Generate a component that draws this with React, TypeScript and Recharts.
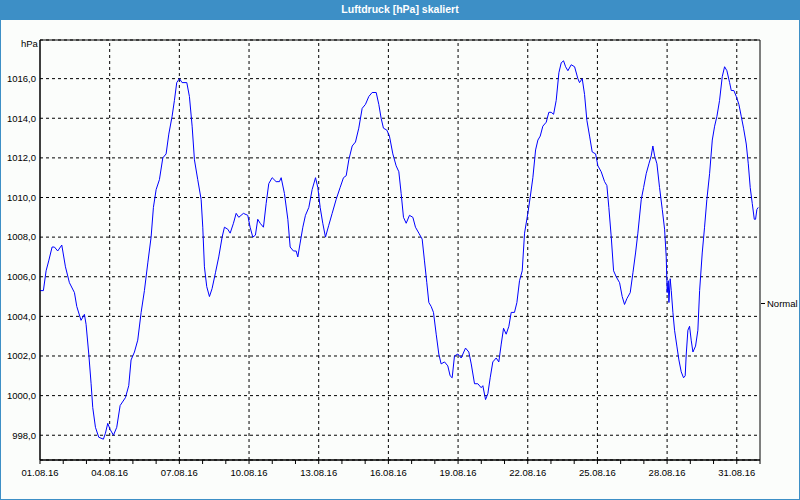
import React from 'react';
import { LineChart, Line, XAxis, YAxis, CartesianGrid, ReferenceLine, ReferenceArea } from 'recharts';

// hours since 01.08.16 00:00
const hours = [
  0, 3.5, 6.3, 9.0, 12.5, 14.9, 18.3, 22.5, 26.3, 30.4, 35.6, 38.0, 42.4, 45.9, 47.6, 50.4, 52.8, 54.5, 57.3, 60.7,
  65.5, 67.6, 70.0, 72.4, 75.9, 79.3, 82.8, 88.3, 91.7, 94.1, 97.6, 101.0, 104.5, 107.9, 111.4, 114.8, 117.2, 120.0,
  123.4, 126.9, 130.3, 133.1, 136.5, 138.9, 141.3, 144.1, 146.8, 151.7, 154.4, 157.2, 159.6, 163.0, 166.5, 168.2,
  169.9, 172.3, 175.1, 177.8, 181.3, 184.7, 188.2, 190.6, 194.0, 196.5, 199.9, 202.7, 205.4, 210.2, 214.7, 217.1,
  219.9, 222.6, 225.0, 227.5, 230.9, 233.7, 236.4, 239.9, 244.0, 247.4, 249.2, 252.6, 256.1, 258.5, 261.9, 264.7,
  266.4, 268.8, 271.6, 274.3, 277.8, 281.2, 284.7, 287.1, 289.5, 292.2, 295.0, 298.4, 301.9, 306.0, 310.1, 313.6,
  316.4, 319.1, 322.6, 326.0, 329.4, 332.9, 336.3, 339.8, 343.2, 347.4, 350.1, 352.5, 354.9, 358.4, 361.1, 364.6,
  368.0, 370.8, 373.2, 375.6, 378.4, 381.8, 385.3, 388.0, 391.5, 394.9, 397.3, 399.7, 401.8, 404.2, 406.6, 409.4,
  412.1, 414.5, 418.0, 421.4, 423.8, 425.9, 428.3, 431.8, 435.2, 439.7, 443.1, 445.6, 449.0, 452.4, 455.9, 457.6,
  460.4, 462.8, 465.2, 467.9, 471.4, 474.1, 476.6, 479.0, 481.7, 484.5, 486.9, 490.3, 492.8, 495.5, 498.3, 500.7,
  504.1, 506.5, 509.3, 512.1, 514.5, 516.9, 519.6, 523.1, 525.8, 528.2, 530.7, 533.4, 536.2, 538.6, 541.0, 543.1,
  545.5, 548.9, 552.4, 555.8, 557.5, 560.3, 562.7, 565.1, 567.9, 570.6, 574.1, 576.5, 579.9, 583.4, 585.8, 587.8,
  590.3, 592.7, 595.4, 598.9, 601.6, 604.0, 606.5, 609.9, 612.7, 615.4, 617.8, 621.3, 623.7, 626.4, 629.2, 631.6,
  633.3, 635.1, 637.5, 640.2, 643.0, 645.4, 647.1, 648.1, 649.2, 649.9, 651.2, 652.3, 654.0, 655.7, 658.1, 660.2,
  662.6, 665.0, 666.7, 667.8, 669.5, 671.2, 672.9, 674.7, 677.4, 679.8, 681.6, 684.3, 686.7, 689.1, 691.9, 694.7,
  697.1, 699.5, 702.2, 705.0, 707.4, 709.8, 712.6, 714.3, 717.0, 719.5, 722.2, 724.6, 727.0, 729.8, 731.9, 733.9,
  736.0, 738.1, 739.4, 740.8, 742.2,
];

// hPa
const pressure = [
  1005.3, 1005.3, 1006.3, 1006.8, 1007.5, 1007.5, 1007.3, 1007.6, 1006.5, 1005.7, 1005.2, 1004.5, 1003.8, 1004.1, 1003.6,
  1002.1, 1000.6, 999.4, 998.4, 997.9, 997.8, 998.1, 998.6, 998.3, 998.0, 998.4, 999.5, 999.9, 1000.5, 1001.8, 1002.2,
  1002.8, 1004.2, 1005.3, 1006.7, 1008.0, 1009.5, 1010.4, 1010.9, 1012.0, 1012.2, 1013.2, 1014.1, 1014.9, 1015.8, 1016.0,
  1015.8, 1015.8, 1015.1, 1013.6, 1011.9, 1010.9, 1009.9, 1008.5, 1006.5, 1005.5, 1005.0, 1005.4, 1006.2, 1007.0, 1008.0,
  1008.5, 1008.4, 1008.2, 1008.7, 1009.2, 1009.0, 1009.2, 1009.1, 1008.5, 1008.0, 1008.1, 1008.9, 1008.7, 1008.5, 1009.7,
  1010.7, 1011.0, 1010.8, 1010.8, 1011.0, 1010.2, 1008.9, 1007.5, 1007.3, 1007.3, 1007.0, 1007.7, 1008.5, 1009.1, 1009.5,
  1010.4, 1011.0, 1010.5, 1009.5, 1008.7, 1008.0, 1008.6, 1009.2, 1009.9, 1010.5, 1011.0, 1011.1, 1011.9, 1012.6, 1012.8,
  1013.5, 1014.5, 1014.7, 1015.1, 1015.3, 1015.3, 1014.7, 1014.0, 1013.5, 1013.4, 1013.1, 1012.2, 1011.6, 1011.3, 1010.2,
  1009.0, 1008.7, 1009.1, 1009.0, 1008.5, 1008.2, 1007.9, 1006.8, 1005.7, 1004.7, 1004.5, 1004.2, 1003.1, 1002.1, 1001.6,
  1001.7, 1001.5, 1001.0, 1000.9, 1002.0, 1002.1, 1001.9, 1002.4, 1002.2, 1001.6, 1000.6, 1000.6, 1000.4, 1000.5, 999.8,
  1000.1, 1000.9, 1001.7, 1001.9, 1001.7, 1002.6, 1003.4, 1003.1, 1003.5, 1004.2, 1004.2, 1004.7, 1005.8, 1006.3, 1008.2,
  1009.2, 1010.0, 1011.0, 1012.4, 1012.9, 1013.1, 1013.6, 1013.8, 1014.3, 1014.3, 1014.2, 1014.9, 1016.3, 1016.8, 1016.9,
  1016.6, 1016.4, 1016.7, 1016.6, 1016.0, 1015.8, 1016.0, 1015.2, 1013.9, 1013.1, 1012.3, 1012.2, 1011.6, 1011.3, 1010.8,
  1010.6, 1009.5, 1008.0, 1006.3, 1006.0, 1005.7, 1005.0, 1004.6, 1004.9, 1005.2, 1006.2, 1007.2, 1008.2, 1009.9, 1010.5,
  1011.2, 1011.7, 1012.1, 1012.6, 1012.1, 1011.7, 1010.5, 1009.4, 1008.4, 1007.0, 1005.2, 1005.8, 1004.7, 1005.9, 1005.3,
  1004.2, 1003.3, 1002.5, 1001.8, 1001.2, 1000.9, 1001.0, 1002.1, 1003.3, 1003.5, 1002.8, 1002.2, 1002.5, 1003.3, 1005.3,
  1007.2, 1008.5, 1009.9, 1011.2, 1012.9, 1013.6, 1014.1, 1014.9, 1016.1, 1016.6, 1016.4, 1015.8, 1015.4, 1015.4, 1015.1,
  1014.7, 1014.1, 1013.5, 1012.7, 1011.7, 1010.5, 1009.7, 1008.9, 1008.9, 1009.4, 1009.5,
];

const dateLabels = [
  '01.08.16', '04.08.16', '07.08.16', '10.08.16', '13.08.16', '16.08.16',
  '19.08.16', '22.08.16', '25.08.16', '28.08.16', '31.08.16',
];
const yTicks = [998, 1000, 1002, 1004, 1006, 1008, 1010, 1012, 1014, 1016];
const Y_MIN = 996.75;
const Y_MAX = 1017.95;
const DAYS = 31;

const data = hours.map((h, i) => ({ h, p: pressure[i] }));
const dayTicks = Array.from({ length: DAYS + 1 }, (_, d) => d * 24);
const gridHours = dateLabels.slice(1).map((_, i) => (i + 1) * 72);

const fmtX = (v: number) => (v % 72 === 0 ? dateLabels[v / 72] ?? '' : '');
const fmtY = (v: number) => v.toFixed(1).replace('.', ',');

const font = '"Liberation Sans", Arial, sans-serif';

export default function App() {
  return (
    <div
      style={{
        position: 'fixed', left: 0, top: 0, width: 800, height: 500, boxSizing: 'border-box',
        background: '#fbfdfb', border: '1px solid #3d8fc6', borderTop: 'none', fontFamily: font,
      }}
    >
      <div
        style={{
          position: 'absolute', left: -1, top: 0, width: 800, height: 20, background: '#3d8fc6',
          color: '#fff', fontWeight: 'bold', fontSize: 10.5, lineHeight: '19px', textAlign: 'center',
        }}
      >
        Luftdruck [hPa] skaliert
      </div>
      <div style={{ position: 'absolute', left: 20, top: 38, fontSize: 9.5, color: '#000' }}>hPa</div>
      <div style={{ position: 'absolute', left: 760, top: 298, fontSize: 9.5, color: '#000', display: 'flex', alignItems: 'center' }}>
        <span style={{ display: 'inline-block', width: 4, height: 1, background: '#000', marginRight: 2 }} />
        Normal
      </div>
      <div style={{ position: 'absolute', left: -1, top: 0 }}>
        <LineChart width={800} height={500} data={data} margin={{ top: 40, right: 40, left: 0, bottom: 0 }}>
          <CartesianGrid vertical={false} stroke="#000" strokeDasharray="3 3" />
          {gridHours.map((h) => (
            <ReferenceLine key={h} x={h} stroke="#000" strokeDasharray="3 3" />
          ))}
          <XAxis
            dataKey="h"
            type="number"
            domain={[0, DAYS * 24]}
            ticks={dayTicks}
            interval={0}
            tickFormatter={fmtX}
            height={40}
            tickSize={4}
            tickMargin={5}
            stroke="#000"
            tick={{ fill: '#000', fontSize: 9.5, fontFamily: font }}
          />
          <YAxis
            type="number"
            domain={[Y_MIN, Y_MAX]}
            allowDataOverflow
            ticks={yTicks}
            interval={0}
            tickFormatter={fmtY}
            width={40}
            tickLine={false}
            tickSize={0}
            tickMargin={4}
            stroke="#000"
            tick={{ fill: '#000', fontSize: 9.5, fontFamily: font }}
          />
          <ReferenceArea x1={0} x2={DAYS * 24} y1={Y_MIN} y2={Y_MAX} fill="none" stroke="#000" strokeWidth={1} />
          <Line
            type="linear"
            dataKey="p"
            stroke="#0000ff"
            strokeWidth={1}
            dot={false}
            isAnimationActive={false}
          />
        </LineChart>
      </div>
    </div>
  );
}
